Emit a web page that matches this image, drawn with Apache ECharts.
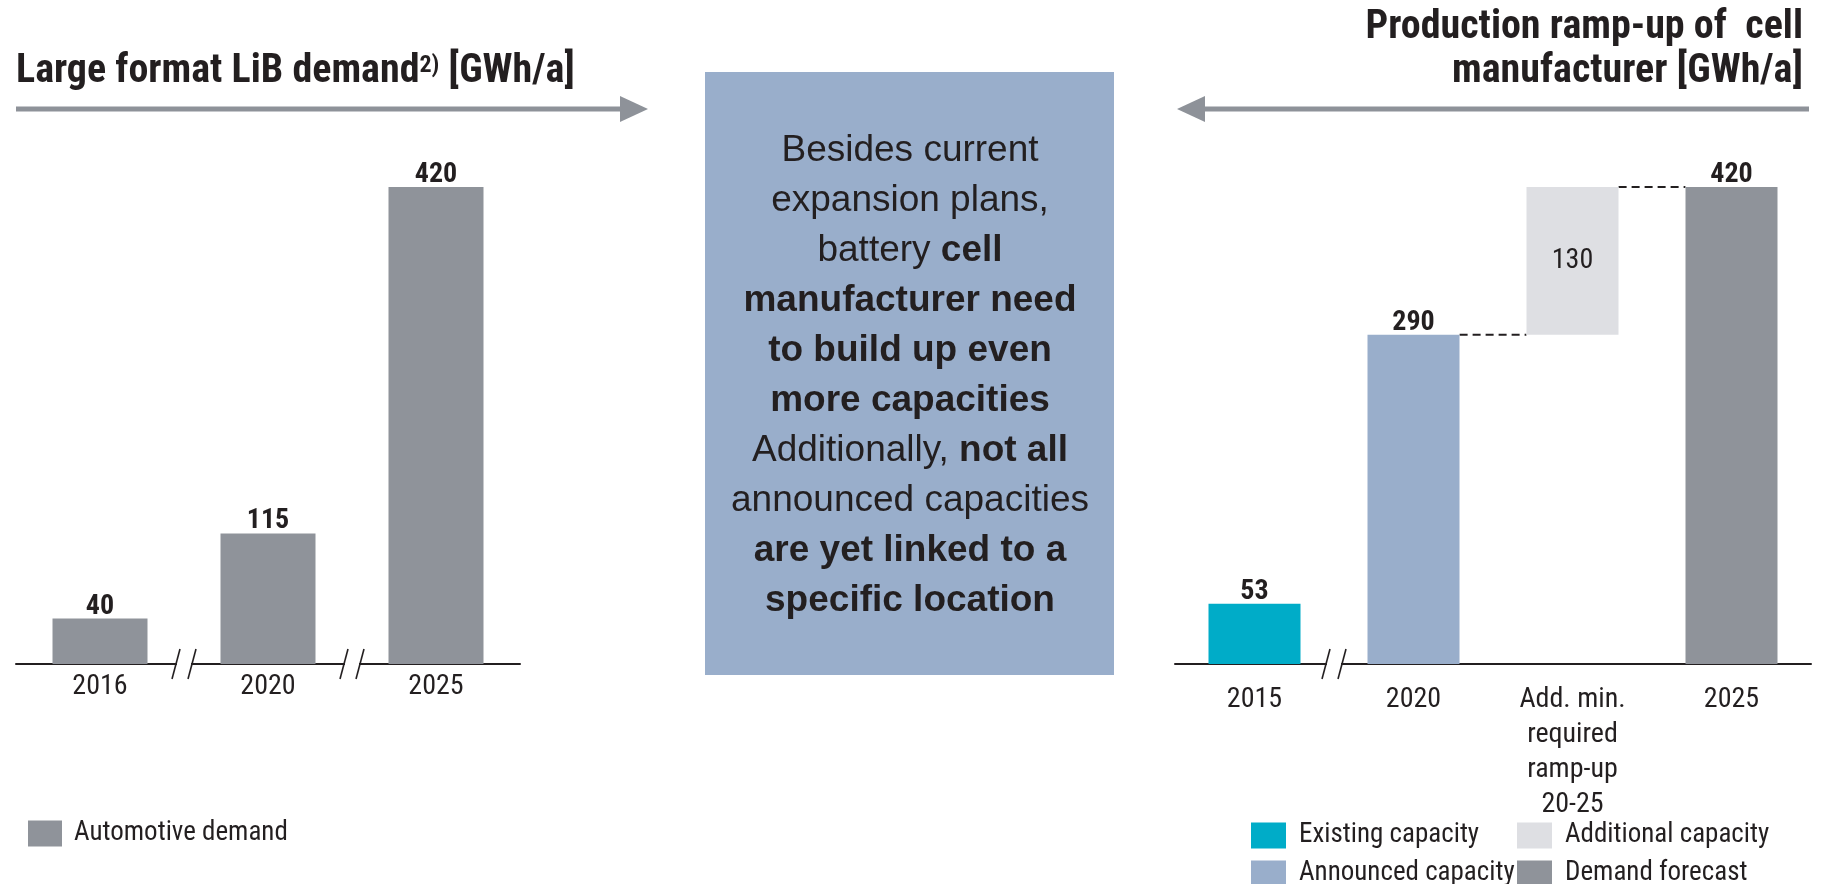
<!DOCTYPE html>
<html><head><meta charset="utf-8">
<script src="https://cdn.jsdelivr.net/npm/echarts@6/dist/echarts.min.js"></script>
<style>html,body{margin:0;padding:0;background:#fff}#c{width:1824px;height:884px}</style>
</head><body><div id="c"></div>
<script>
// ---- data ----
const leftCategories = ['2016', '2020', '2025'];
const leftValues = [40, 115, 420];
const rightCategories = ['2015', '2020', 'Add. min.\nrequired\nramp-up\n20-25', '2025'];
const existingCapacity = [53, '-', '-', '-'];
const announcedCapacity = ['-', 290, '-', '-'];
const additionalBase = ['-', '-', 290, '-'];
const additionalCapacity = ['-', '-', 130, '-'];
const demandForecast = ['-', '-', '-', 420];
const connectors = [[1, 2, 290], [2, 3, 420]];
const leftBreaks = [[0, 1, 0], [1, 2, 0]];
const rightBreaks = [[0, 1, 0]];

// ---- styles ----
const NARROW = '"Liberation Sans Narrow", "Arial Narrow", "Roboto Condensed", sans-serif';
const REG = '"Liberation Sans", Arial, sans-serif';
const DARK = '#231f20';
const GREY = '#8f939a';
const TEAL = '#00acc8';
const BLUE = '#99aecb';
const LIGHT = '#dedfe3';
const ARROW = '#8e9299';

const chart = echarts.init(document.getElementById('c'), null, {renderer: 'canvas'});

function breakRender(params, api) {
  const a = api.coord([api.value(0), 0]);
  const b = api.coord([api.value(1), 0]);
  const x = (a[0] + b[0]) / 2, y = a[1];
  const st = {stroke: DARK, lineWidth: 1.6};
  return {type: 'group', children: [
    {type: 'rect', shape: {x: x - 7, y: y - 3, width: 14, height: 6}, style: {fill: '#fff'}},
    {type: 'line', shape: {x1: x - 12, y1: y + 15, x2: x - 4, y2: y - 15}, style: st},
    {type: 'line', shape: {x1: x + 4, y1: y + 15, x2: x + 12, y2: y - 15}, style: st}
  ]};
}
function connectorRender(params, api) {
  const p1 = api.coord([api.value(0), api.value(2)]);
  const p2 = api.coord([api.value(1), api.value(2)]);
  const bw = api.size([1, 0])[0] * 0.58;
  return {type: 'line', shape: {x1: p1[0] + bw / 2, y1: p1[1], x2: p2[0] - bw / 2, y2: p2[1]},
    style: {stroke: DARK, lineWidth: 2, lineDash: [8, 5]}};
}

const axisLabelBase = {color: DARK, fontFamily: NARROW, fontSize: 28};
const valueLabel = {show: true, position: 'top', distance: -2, color: DARK, fontFamily: NARROW, fontSize: 28, fontWeight: 'bold'};
const legendText = {color: DARK, fontFamily: NARROW, fontSize: 27, lineHeight: 26};

const option = {
  animation: false,
  grid: [
    {left: 16, width: 504, top: 187, bottom: 220},
    {left: 1175, width: 636, top: 187, bottom: 220}
  ],
  xAxis: [
    {type: 'category', gridIndex: 0, data: leftCategories,
      axisLine: {lineStyle: {color: DARK, width: 2}}, axisTick: {show: false},
      axisLabel: Object.assign({margin: 9, lineHeight: 28}, axisLabelBase)},
    {type: 'category', gridIndex: 1, data: rightCategories,
      axisLine: {lineStyle: {color: DARK, width: 2}}, axisTick: {show: false},
      axisLabel: Object.assign({margin: 18, lineHeight: 35, interval: 0}, axisLabelBase)}
  ],
  yAxis: [
    {type: 'value', gridIndex: 0, min: 0, max: 420, show: false, splitLine: {show: false}},
    {type: 'value', gridIndex: 1, min: 0, max: 420, show: false, splitLine: {show: false}}
  ],
  legend: [
    {left: 28, top: 820, height: 60, orient: 'vertical', padding: 0, itemWidth: 34, itemHeight: 26, icon: 'rect', selectedMode: false,
      data: ['Automotive demand'],
      textStyle: Object.assign({padding: [0, 0, 0, 7]}, legendText)},
    {left: 1251, top: 822, height: 80, orient: 'vertical', padding: 0, itemWidth: 35, itemHeight: 26, itemGap: 11, icon: 'rect', selectedMode: false,
      data: ['Existing capacity', 'Announced capacity'],
      textStyle: Object.assign({padding: [0, 0, 0, 8]}, legendText)},
    {left: 1517, top: 822, height: 80, orient: 'vertical', padding: 0, itemWidth: 35, itemHeight: 26, itemGap: 11, icon: 'rect', selectedMode: false,
      data: ['Additional capacity', 'Demand forecast'],
      textStyle: Object.assign({padding: [0, 0, 0, 8]}, legendText)}
  ],
  series: [
    {name: 'Automotive demand', type: 'bar', xAxisIndex: 0, yAxisIndex: 0, data: leftValues, barWidth: 95,
      itemStyle: {color: GREY}, label: valueLabel},
    {name: 'base', type: 'bar', stack: 'r', xAxisIndex: 1, yAxisIndex: 1, data: additionalBase, barWidth: 92,
      itemStyle: {color: 'rgba(0,0,0,0)'}, silent: true},
    {name: 'Existing capacity', type: 'bar', stack: 'r', xAxisIndex: 1, yAxisIndex: 1, data: existingCapacity, barWidth: 92,
      itemStyle: {color: TEAL}, label: valueLabel},
    {name: 'Announced capacity', type: 'bar', stack: 'r', xAxisIndex: 1, yAxisIndex: 1, data: announcedCapacity, barWidth: 92,
      itemStyle: {color: BLUE}, label: valueLabel},
    {name: 'Additional capacity', type: 'bar', stack: 'r', xAxisIndex: 1, yAxisIndex: 1, data: additionalCapacity, barWidth: 92,
      itemStyle: {color: LIGHT},
      label: {show: true, position: 'inside', color: DARK, fontFamily: NARROW, fontSize: 28}},
    {name: 'Demand forecast', type: 'bar', stack: 'r', xAxisIndex: 1, yAxisIndex: 1, data: demandForecast, barWidth: 92,
      itemStyle: {color: GREY}, label: valueLabel},
    {type: 'custom', xAxisIndex: 1, yAxisIndex: 1, data: connectors, renderItem: connectorRender,
      encode: {x: [0, 1], y: 2}, clip: false, silent: true},
    {type: 'custom', xAxisIndex: 0, yAxisIndex: 0, data: leftBreaks, renderItem: breakRender,
      encode: {x: [0, 1], y: 2}, clip: false, silent: true, z: 5},
    {type: 'custom', xAxisIndex: 1, yAxisIndex: 1, data: rightBreaks, renderItem: breakRender,
      encode: {x: [0, 1], y: 2}, clip: false, silent: true, z: 5}
  ],
  graphic: [
    // left title + arrow
    {type: 'text', x: 16, y: 50, style: {
      text: '{a|Large format LiB demand}{s|2)}{a| [GWh/a]}',
      align: 'left', verticalAlign: 'top', fill: DARK,
      rich: {
        a: {font: 'bold 40px ' + NARROW, lineHeight: 44, fill: DARK},
        s: {font: 'bold 24px ' + NARROW, lineHeight: 44, verticalAlign: 'top', padding: [4, 0, 0, 0], fill: DARK}
      }}},
    {type: 'line', shape: {x1: 16, y1: 109, x2: 624, y2: 109}, style: {stroke: ARROW, lineWidth: 5}},
    {type: 'polygon', shape: {points: [[620, 96], [648, 109], [620, 122]]}, style: {fill: ARROW}},
    // right title + arrow
    {type: 'text', x: 1803, y: 6, style: {
      text: 'Production ramp-up of  cell\nmanufacturer [GWh/a]',
      font: 'bold 40px ' + NARROW, lineHeight: 44, fill: DARK, align: 'right', verticalAlign: 'top'}},
    {type: 'line', shape: {x1: 1201, y1: 109, x2: 1809, y2: 109}, style: {stroke: ARROW, lineWidth: 5}},
    {type: 'polygon', shape: {points: [[1205, 96], [1177, 109], [1205, 122]]}, style: {fill: ARROW}},
    // center box
    {type: 'rect', shape: {x: 705, y: 72, width: 409, height: 603}, style: {fill: BLUE}},
    {type: 'text', x: 910, y: 126, style: {
      text: [
        '{n|Besides current}',
        '{n|expansion plans,}',
        '{n|battery }{b|cell}',
        '{b|manufacturer need}',
        '{b|to build up even}',
        '{b|more capacities}',
        '{n|Additionally, }{b|not all}',
        '{n|announced capacities}',
        '{b|are yet linked to a}',
        '{b|specific location}'
      ].join('\n'),
      align: 'center', verticalAlign: 'top', fill: DARK, lineHeight: 50,
      rich: {
        n: {font: '37px ' + REG, lineHeight: 50, fill: DARK},
        b: {font: 'bold 37px ' + REG, lineHeight: 50, fill: DARK}
      }}}
  ]
};
chart.setOption(option);
</script>
</body></html>
